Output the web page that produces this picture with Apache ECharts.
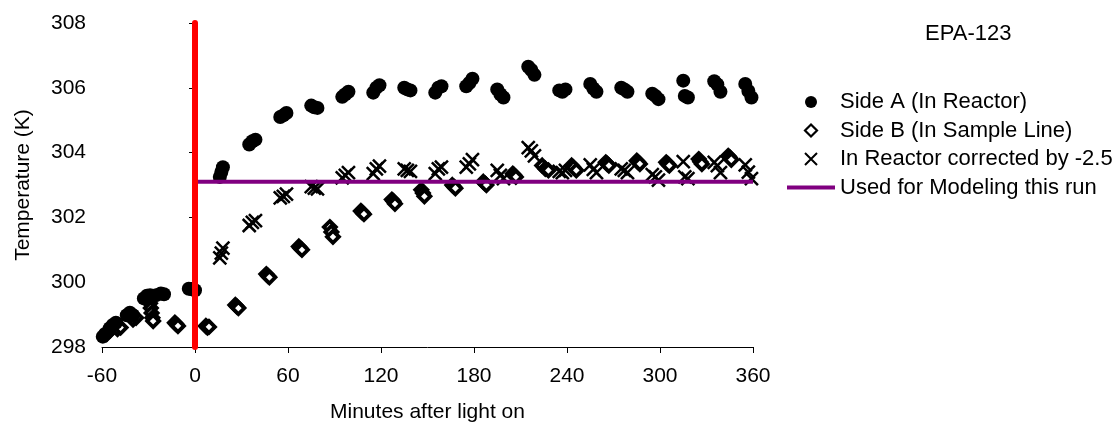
<!DOCTYPE html>
<html>
<head>
<meta charset="utf-8">
<script src="https://cdn.jsdelivr.net/npm/echarts@6/dist/echarts.min.js"></script>
<style>
html,body{margin:0;padding:0;background:#fff;}
#c{width:1117px;height:430px;}
</style>
</head>
<body>
<div id="c"></div>
<script>
// ---- data (minutes after light on, temperature K) ----
const titleText = 'EPA-123';
const xTicks = [-60, 0, 60, 120, 180, 240, 300, 360];
const yTicks = [298, 300, 302, 304, 306, 308];

const sideA = [
  [-61,298.25],[-59.5,298.32],[-58,298.4],
  [-55,298.58],[-53,298.68],[-51,298.75],
  [-44,298.98],[-42,299.06],[-40,298.98],
  [-33,299.5],[-31,299.58],[-29,299.6],
  [-25,299.6],[-22,299.65],[-20,299.63],
  [-4,299.8],[-2,299.78],[0,299.75],
  [16,303.25],[17,303.4],[18,303.55],
  [35,304.25],[37,304.35],[39,304.4],
  [55,305.1],[57,305.15],[59,305.22],
  [75,305.45],[77,305.4],[79,305.38],
  [95,305.72],[97,305.8],[99,305.88],
  [115,305.85],[117,306.0],[119,306.08],
  [135,306.0],[137,305.95],[139,305.92],
  [155,305.85],[157,306.0],[159,306.05],
  [175,306.05],[177,306.15],[179,306.28],
  [195,305.95],[197,305.8],[199,305.7],
  [215,306.65],[217,306.55],[219,306.4],
  [235,305.92],[237,305.88],[239,305.95],
  [255,306.12],[257,305.98],[259,305.88],
  [275,306.0],[277,305.95],[279,305.88],
  [295,305.82],[297,305.75],[299,305.65],
  [315,306.22],[316,305.75],[318,305.7],
  [335,306.2],[337,306.1],[339,305.88],
  [355,306.12],[357,305.9],[359,305.7]
];

const sideB = [
  [-57,298.4],[-55,298.5],[-50,298.55],[-48,298.6],[-40,298.85],[-38,298.9],
  [-29,299.35],[-28.5,299.2],[-28,299.05],[-27.5,298.9],[-27,298.8],
  [-13,298.75],[-12,298.7],[-11,298.65],
  [7,298.65],[8,298.6],[9,298.62],
  [26,299.3],[27,299.25],[28,299.2],
  [46,300.25],[47,300.2],[48,300.15],
  [67,301.1],[68,301.05],[69,301.0],
  [87,301.7],[88,301.55],[89,301.4],
  [107,302.2],[108,302.15],[109,302.1],
  [127,302.55],[128,302.5],[129,302.42],
  [146,302.85],[147,302.75],[148,302.65],
  [166,303.0],[167,302.95],[168,302.9],
  [186,303.1],[187,303.05],[188,303.0],
  [205,303.35],[206,303.3],[207,303.25],
  [224,303.6],[226,303.5],[228,303.45],
  [243,303.6],[244,303.55],[246,303.45],
  [265,303.7],[266,303.65],[267,303.6],
  [285,303.75],[286,303.7],[287,303.65],
  [304,303.7],[305,303.65],[306,303.6],
  [325,303.8],[326,303.72],[327,303.65],
  [344,303.9],[345,303.85],[346,303.78]
];

const corrected = [
  [16,300.75],[17,300.9],[18,301.05],
  [35,301.75],[37,301.85],[39,301.9],
  [55,302.6],[57,302.65],[59,302.72],
  [75,302.95],[77,302.9],[79,302.88],
  [95,303.22],[97,303.3],[99,303.38],
  [115,303.35],[117,303.5],[119,303.58],
  [135,303.5],[137,303.45],[139,303.42],
  [155,303.35],[157,303.5],[159,303.55],
  [175,303.55],[177,303.65],[179,303.78],
  [195,303.45],[197,303.3],[199,303.2],
  [215,304.15],[217,304.05],[219,303.9],
  [235,303.42],[237,303.38],[239,303.45],
  [255,303.62],[257,303.48],[259,303.38],
  [275,303.5],[277,303.45],[279,303.38],
  [295,303.32],[297,303.25],[299,303.15],
  [315,303.72],[316,303.25],[318,303.2],
  [335,303.7],[337,303.6],[339,303.38],
  [355,303.62],[357,303.4],[359,303.2]
];

const modelLine = [[0,303.1],[360,303.1]];
const lightOnLine = [[0,298],[0,308]];

const names = ['Side A (In Reactor)','Side B (In Sample Line)','In Reactor corrected by -2.5','Used for Modeling this run'];

const FONT = '"Liberation Sans", Arial, sans-serif';
const DIAMOND = 'path://M5,0L10,5L5,10L0,5Z';
const CROSS = 'path://M0,0L10,10M10,0L0,10';
const chart = echarts.init(document.getElementById('c'), null, {renderer:'canvas'});
chart.setOption({
  animation:false,
  backgroundColor:'#fff',
  title:{text:titleText,left:920,top:18,textStyle:{fontFamily:FONT,fontSize:22,fontWeight:'normal',color:'#000'}},
  legend:{
    data:[
      {name:names[0],icon:'circle'},
      {name:names[1],icon:DIAMOND,itemStyle:{color:'#fff',borderColor:'#000',borderWidth:2.2}},
      {name:names[2],icon:CROSS},
      {name:names[3],icon:'path://M0,0H48V4H0Z'}
    ],
    orient:'vertical', left:782, top:86, itemWidth:48, itemHeight:12, itemGap:6.5,
    symbolKeepAspect:true,
    textStyle:{fontFamily:FONT,fontSize:22,color:'#000'}, selectedMode:false
  },
  grid:{left:102,top:23,width:651,height:324,containLabel:false},
  xAxis:{
    type:'value',min:xTicks[0],max:xTicks[xTicks.length-1],interval:60,
    name:'Minutes after light on',nameLocation:'middle',nameGap:55,
    nameTextStyle:{fontFamily:FONT,fontSize:21,color:'#000'},
    axisLine:{show:true,onZero:false,lineStyle:{color:'#000',width:1}},
    axisTick:{show:true,inside:false,length:6,lineStyle:{color:'#000'}},
    axisLabel:{fontFamily:FONT,fontSize:21,color:'#000',margin:19},
    splitLine:{show:false}
  },
  yAxis:{
    type:'value',min:yTicks[0],max:yTicks[yTicks.length-1],interval:2,
    name:'Temperature (K)',nameLocation:'middle',nameGap:68,nameRotate:90,
    nameTextStyle:{fontFamily:FONT,fontSize:21,color:'#000'},
    axisLine:{show:true,lineStyle:{color:'#000',width:1}},
    axisTick:{show:true,inside:false,length:6,lineStyle:{color:'#000'}},
    axisLabel:{fontFamily:FONT,fontSize:21,color:'#000',margin:16},
    splitLine:{show:false}
  },
  series:[
    {name:names[0],type:'scatter',data:sideA,symbol:'circle',symbolSize:14,
     itemStyle:{color:'#000',opacity:1},emphasis:{disabled:true},z:3},
    {name:names[1],type:'scatter',data:sideB,symbol:DIAMOND,symbolSize:12,
     itemStyle:{color:'#fff',borderColor:'#000',borderWidth:3.8,opacity:1},emphasis:{disabled:true},z:2},
    {name:names[2],type:'scatter',data:corrected,symbol:CROSS,symbolSize:13,
     itemStyle:{color:'none',borderColor:'#000',borderWidth:2.5,opacity:1},emphasis:{disabled:true},z:4},
    {name:names[3],type:'line',data:modelLine,symbol:'none',
     lineStyle:{color:'#800080',width:4},itemStyle:{color:'#800080'},emphasis:{disabled:true},z:5},
    {name:'light on',type:'line',data:lightOnLine,symbol:'none',
     lineStyle:{color:'#ff0000',width:6,cap:'round'},emphasis:{disabled:true},z:6}
  ]
});
</script>
</body>
</html>
